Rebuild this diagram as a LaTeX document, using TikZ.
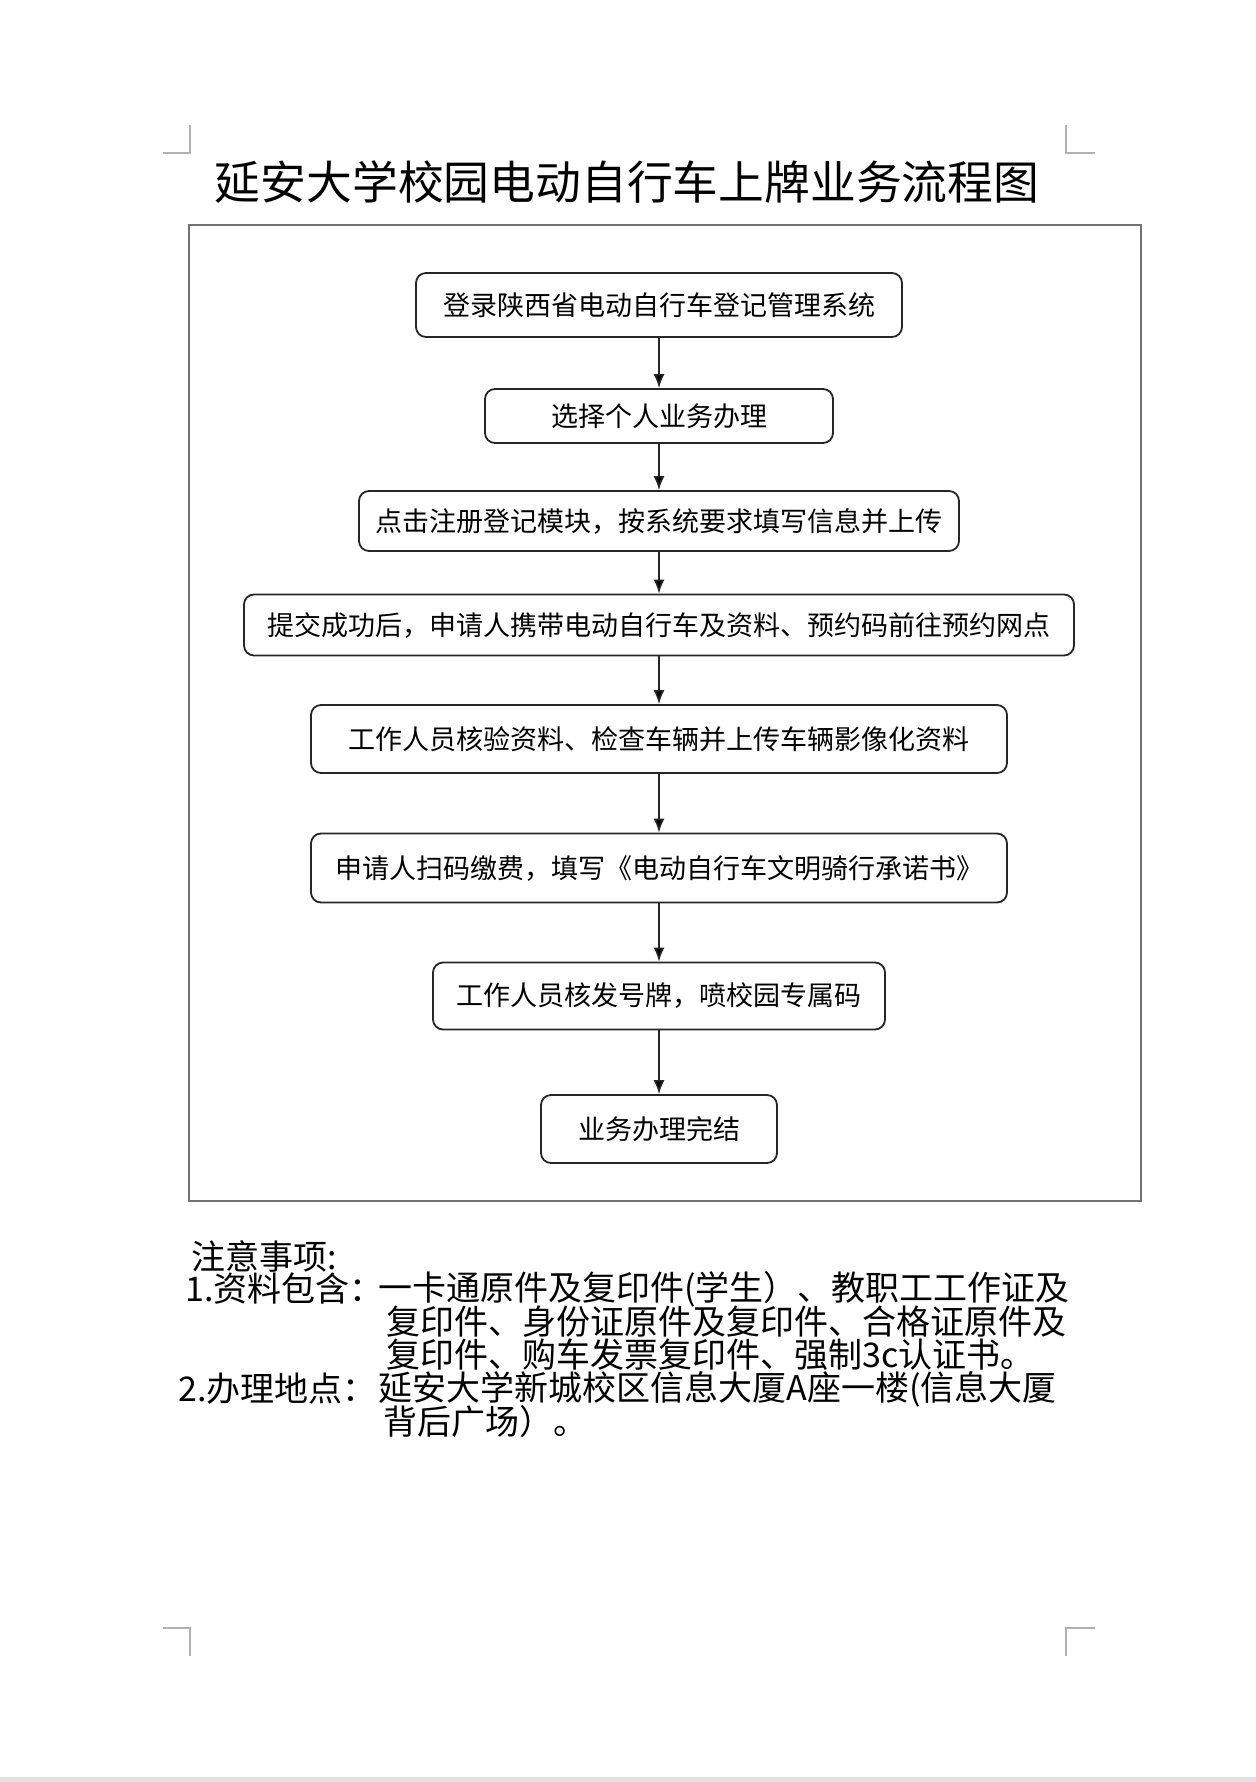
\documentclass[tikz,border=0pt]{standalone}
\usepackage{fontspec}
\newfontfamily\cjk{Noto Sans CJK SC}
\usetikzlibrary{arrows.meta}
\begin{document}
\begin{tikzpicture}[x=0.5pt,y=-0.5pt]
        \tikzstyle{process}=[rectangle,rounded corners=5pt,line width=0.9pt,draw=black!85,inner sep=0pt,font=\cjk\fontsize{13.5pt}{16pt}\selectfont]
        \tikzstyle{edge}=[draw,line width=0.8pt,draw=black!85,-{Latex[length=7pt,width=5.5pt]}]
        \tikzstyle{note}=[anchor=west,inner sep=0pt,font=\cjk\fontsize{17pt}{20pt}\selectfont]
        \tikzstyle{crop}=[draw=black!30,line width=0.6pt]
        \useasboundingbox (0,0) rectangle (1256,1782);
        \fill[black!12] (0,1777) rectangle (1256,1782);
        % crop marks
        \draw[crop] (163,153) -- (190,153) -- (190,125);
        \draw[crop] (1066,125) -- (1066,153) -- (1095,153);
        \draw[crop] (163,1628) -- (190,1628) -- (190,1656);
        \draw[crop] (1066,1656) -- (1066,1628) -- (1095,1628);
        \node[font=\cjk\fontsize{22.9pt}{26pt}\selectfont,inner sep=0pt] (title) at (627,182) {延安大学校园电动自行车上牌业务流程图};
        \draw[draw=black!55,line width=0.6pt] (189,225) rectangle (1141,1201);
        \begin{scope}
                \node [process,minimum width=243pt,minimum height=32pt] (p1) at (659,305) {登录陕西省电动自行车登记管理系统};
                \node [process,minimum width=174pt,minimum height=27pt] (p2) at (659,416) {选择个人业务办理};
                \node [process,minimum width=300pt,minimum height=30pt] (p3) at (659,521) {点击注册登记模块，按系统要求填写信息并上传};
                \node [process,minimum width=415pt,minimum height=30.5pt] (p4) at (659,625) {提交成功后，申请人携带电动自行车及资料、预约码前往预约网点};
                \node [process,minimum width=348pt,minimum height=34pt] (p5) at (659,739) {工作人员核验资料、检查车辆并上传车辆影像化资料};
                \node [process,minimum width=348pt,minimum height=34.5pt] (p6) at (659,868) {申请人扫码缴费，填写《电动自行车文明骑行承诺书》};
                \node [process,minimum width=226pt,minimum height=33.5pt] (p7) at (659,996) {工作人员核发号牌，喷校园专属码};
                \node [process,minimum width=118pt,minimum height=34pt] (p8) at (659,1129) {业务办理完结};
                \path[edge] (p1) edge (p2);
                \path[edge] (p2) edge (p3);
                \path[edge] (p3) edge (p4);
                \path[edge] (p4) edge (p5);
                \path[edge] (p5) edge (p6);
                \path[edge] (p6) edge (p7);
                \path[edge] (p7) edge (p8);
        \end{scope}
        % notes
        \node [note] (n0) at (191,1256) {注意事项:};
        \node [note] (n1) at (185,1289) {1.资料包含：};
        \node [note] (n1a) at (378,1289) {一卡通原件及复印件(学生）、教职工工作证及};
        \node [note] (n1b) at (386,1322) {复印件、身份证原件及复印件、合格证原件及};
        \node [note] (n1c) at (386,1355) {复印件、购车发票复印件、强制3c认证书。};
        \node [note] (n2) at (178,1389) {2.办理地点：};
        \node [note] (n2a) at (378,1389) {延安大学新城校区信息大厦A座一楼(信息大厦};
        \node [note] (n2b) at (383,1422) {背后广场）。};
\end{tikzpicture}
\end{document}
